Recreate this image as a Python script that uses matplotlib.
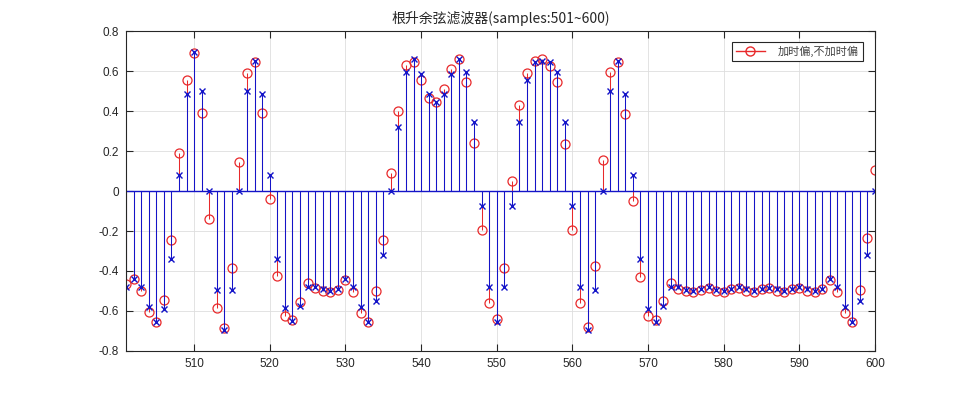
import matplotlib
matplotlib.use("Agg")
import matplotlib.pyplot as plt
import numpy as np
from matplotlib.lines import Line2D
from matplotlib.legend_handler import HandlerLine2D

plt.rcParams['font.family'] = ['Liberation Sans', 'Noto Sans CJK SC', 'DejaVu Sans']
plt.rcParams['axes.unicode_minus'] = False

samples = np.arange(501, 601)

# 加时偏 (red, circles)
with_offset = [
    -0.465, -0.442, -0.500, -0.607, -0.655, -0.547, -0.245, 0.190, 0.557, 0.688,
    0.390, -0.140, -0.583, -0.683, -0.387, 0.143, 0.588, 0.643, 0.392, -0.040,
    -0.425, -0.625, -0.643, -0.553, -0.462, -0.485, -0.498, -0.505, -0.493, -0.443,
    -0.503, -0.608, -0.655, -0.502, -0.243, 0.092, 0.400, 0.628, 0.647, 0.555,
    0.463, 0.445, 0.508, 0.610, 0.658, 0.547, 0.238, -0.197, -0.560, -0.640,
    -0.383, 0.048, 0.430, 0.588, 0.652, 0.658, 0.627, 0.547, 0.237, -0.197,
    -0.562, -0.680, -0.375, 0.157, 0.597, 0.643, 0.383, -0.050, -0.430, -0.627,
    -0.643, -0.550, -0.460, -0.488, -0.502, -0.507, -0.493, -0.485, -0.502, -0.505,
    -0.492, -0.485, -0.498, -0.507, -0.492, -0.483, -0.502, -0.505, -0.492, -0.485,
    -0.502, -0.507, -0.492, -0.445, -0.505, -0.610, -0.655, -0.495, -0.233, 0.105,
]

# 不加时偏 (blue, crosses)
without_offset = [
    -0.478, -0.438, -0.478, -0.578, -0.655, -0.588, -0.340, 0.078, 0.483, 0.695,
    0.498, 0.000, -0.495, -0.695, -0.495, 0.000, 0.500, 0.652, 0.483, 0.078,
    -0.340, -0.587, -0.648, -0.575, -0.478, -0.482, -0.492, -0.498, -0.490, -0.438,
    -0.478, -0.578, -0.655, -0.548, -0.322, 0.000, 0.322, 0.593, 0.660, 0.585,
    0.483, 0.447, 0.483, 0.585, 0.658, 0.595, 0.343, -0.075, -0.482, -0.657,
    -0.478, -0.075, 0.343, 0.553, 0.643, 0.652, 0.643, 0.593, 0.343, -0.077,
    -0.480, -0.695, -0.495, 0.000, 0.498, 0.652, 0.485, 0.078, -0.340, -0.588,
    -0.655, -0.577, -0.478, -0.482, -0.493, -0.502, -0.490, -0.480, -0.493, -0.500,
    -0.488, -0.482, -0.492, -0.498, -0.488, -0.483, -0.492, -0.500, -0.488, -0.482,
    -0.492, -0.500, -0.488, -0.438, -0.480, -0.578, -0.655, -0.548, -0.320, 0.000,
]

x_ticks = [510, 520, 530, 540, 550, 560, 570, 580, 590, 600]
y_ticks = [-0.8, -0.6, -0.4, -0.2, 0, 0.2, 0.4, 0.6, 0.8]
y_tick_labels = ['-0.8', '-0.6', '-0.4', '-0.2', '0', '0.2', '0.4', '0.6', '0.8']

legend_label = '加时偏,不加时偏'
title_text = '根升余弦滤波器(samples:501~600)'

red = '#e8292b'
blue = '#1414c8'


class EndMarkerHandler(HandlerLine2D):
    # MATLAB-style stem legend: line with the marker at its right end
    def get_xdata(self, legend, xdescent, ydescent, width, height, fontsize):
        xdata = np.array([-xdescent, -xdescent + width])
        return xdata, xdata[-1:]


fig = plt.figure(figsize=(9.67, 3.95), dpi=100)
ax = fig.add_axes([0.1303, 0.1114, 0.7746, 0.8101])

m1, s1, b1 = ax.stem(samples, with_offset, linefmt='-', markerfmt='o', basefmt=' ')
plt.setp(s1, color=red, linewidth=0.75, snap=True)
plt.setp(m1, color=red, markerfacecolor='none', markersize=6.5, markeredgewidth=0.9)

m2, s2, b2 = ax.stem(samples, without_offset, linefmt='-', markerfmt='x', basefmt='-')
plt.setp(s2, color=blue, linewidth=0.75, snap=True)
plt.setp(m2, color=blue, markersize=4.5, markeredgewidth=1.0)
plt.setp(b2, color=blue, linewidth=1.0)

ax.set_xlim(501, 600)
ax.set_ylim(-0.8, 0.8)
ax.set_xticks(x_ticks)
ax.set_yticks(y_ticks)
ax.set_yticklabels(y_tick_labels)
ax.tick_params(direction='in', length=5, width=0.8, top=True, right=True,
               labelsize=8.5, colors='#262626', pad=5)
ax.grid(True, color='#dedede', linewidth=0.6)
ax.set_axisbelow(True)
for sp in ax.spines.values():
    sp.set_linewidth(0.8)
    sp.set_color('#262626')

ax.set_title(title_text, fontsize=10, color='#262626', pad=6,
             family=['Noto Sans CJK SC', 'DejaVu Sans'])

handle = Line2D([], [], color=red, marker='o', markerfacecolor='none',
                markersize=6.5, linewidth=1.0)
leg = ax.legend([handle], [legend_label], loc='upper right',
                bbox_to_anchor=(0.984, 0.967), borderaxespad=0,
                handler_map={Line2D: EndMarkerHandler()},
                fancybox=False, framealpha=1, edgecolor='#262626',
                prop={'family': ['Noto Sans CJK SC'], 'size': 8},
                handlelength=2.6, handletextpad=1.2, borderpad=0.35,
                numpoints=1)
leg.get_frame().set_linewidth(0.8)
for t in leg.get_texts():
    t.set_color('#404040')

fig.savefig('out.png', dpi=100)
